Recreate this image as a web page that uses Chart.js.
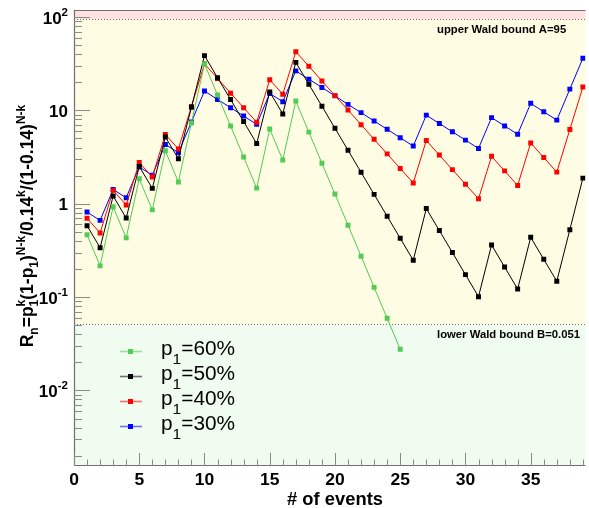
<!DOCTYPE html>
<html>
<head>
<meta charset="utf-8">
<script src="https://cdn.jsdelivr.net/npm/chart.js@4/dist/chart.umd.min.js"></script>
<style>
  html, body { margin: 0; padding: 0; background: #ffffff; }
  #wrap { width: 589px; height: 508px; }
</style>
</head>
<body>
<div id="wrap"><canvas id="c" width="589" height="508"></canvas></div>
<script>
// Number of events N
const events = [1,2,3,4,5,6,7,8,9,10,11,12,13,14,15,16,17,18,19,20,21,22,23,24,25,26,27,28,29,30,31,32,33,34,35,36,37,38,39];

// Likelihood ratio R_n for each hypothesis p1
const ratioP30 = [0.814,0.663,1.42,1.16,2.48,2.02,4.32,3.52,7.53,16.1,13.1,10.7,8.71,7.09,15.2,12.4,26.5,21.6,17.6,14.3,11.6,9.46,7.70,6.27,5.10,4.15,8.90,7.24,5.90,4.80,3.91,8.37,6.81,5.55,11.9,9.67,7.87,16.9,36.2];
const ratioP40 = [0.698,0.487,1.39,0.971,2.77,1.93,5.53,3.86,11.0,31.5,22.0,15.3,10.7,7.46,21.3,14.9,42.5,29.7,20.7,14.4,10.1,7.03,4.90,3.42,2.39,1.67,4.76,3.32,2.32,1.62,1.13,3.22,2.25,1.57,4.48,3.13,2.18,6.23,17.8];
const ratioP50 = [0.581,0.338,1.21,0.702,2.51,1.46,5.20,3.03,10.8,38.6,22.4,13.1,7.59,4.41,15.8,9.16,32.7,19.0,11.1,6.43,3.74,2.17,1.26,0.734,0.427,0.248,0.887,0.516,0.300,0.174,0.101,0.362,0.210,0.122,0.437,0.254,0.148,0.527,1.88];
const ratioP60 = [0.465,0.216,0.927,0.431,1.85,0.860,3.69,1.71,7.34,31.5,14.6,6.81,3.17,1.47,6.31,2.94,12.6,5.85,2.72,1.27,0.589,0.274,0.127,0.0593,0.0276];

// Legend entries (top to bottom)
const seriesNames = ['60%', '50%', '40%', '30%'];

// Wald decision bounds
const upperBound = 95;
const lowerBound = 0.051;
const upperLabel = 'upper Wald bound A=95';
const lowerLabel = 'lower Wald bound B=0.051';

// Axis ticks
const xMajorTicks = [0, 5, 10, 15, 20, 25, 30, 35];
const xTickLabels = ['0', '5', '10', '15', '20', '25', '30', '35'];
const yDecades = [0.01, 0.1, 1, 10, 100];
const yTickBase = ['10', '10', '1', '10', '10'];
const yTickExp = ['-2', '-1', '', '', '2'];
const xTitle = '# of events';

const FAM = '"Liberation Sans", Arial, Helvetica, sans-serif';
const COLORS = { p60: '#52cc52', p50: '#000000', p40: '#ff0000', p30: '#0000ff' };

function toPoints(vals) { return vals.map((v, i) => ({ x: events[i], y: v })); }

// ---- rich text helpers (super/subscripts) ----
function segW(ctx, font, t) { ctx.font = font; return ctx.measureText(t).width; }
function layoutRich(ctx, items, st) {
  let w = 0;
  const out = [];
  for (const it of items) {
    if (typeof it === 'string') {
      const ww = segW(ctx, st.main, it);
      out.push({ x: w, parts: [{ t: it, font: st.main, dy: 0 }] });
      w += ww;
    } else {
      const parts = [];
      let ww = 0;
      if (it.sup !== undefined) { parts.push({ t: it.sup, font: st.script, dy: st.supDy }); ww = Math.max(ww, segW(ctx, st.script, it.sup)); }
      if (it.sub !== undefined) { parts.push({ t: it.sub, font: st.script, dy: st.subDy }); ww = Math.max(ww, segW(ctx, st.script, it.sub)); }
      out.push({ x: w, parts });
      w += ww + (st.gap || 0);
    }
  }
  return { width: w, out };
}
function drawRich(ctx, items, x, y, align, st, sx) {
  sx = sx || 1;
  const L = layoutRich(ctx, items, st);
  const W = L.width * sx;
  let x0 = x;
  if (align === 'center') x0 = x - W / 2;
  else if (align === 'right') x0 = x - W;
  ctx.save();
  ctx.translate(x0, y);
  ctx.scale(sx, 1);
  ctx.textAlign = 'left';
  ctx.textBaseline = 'alphabetic';
  for (const o of L.out) {
    for (const p of o.parts) { ctx.font = p.font; ctx.fillText(p.t, o.x, p.dy); }
  }
  ctx.restore();
}

const decorations = {
  id: 'decorations',
  beforeDatasetsDraw(chart) {
    const { ctx, chartArea: a, scales: { y } } = chart;
    const w = a.right - a.left;
    const yA = y.getPixelForValue(upperBound);
    const yB = y.getPixelForValue(lowerBound);
    ctx.save();
    ctx.fillStyle = '#ffe1e1';
    ctx.fillRect(a.left, a.top, w, yA - a.top);
    ctx.fillStyle = '#fefce3';
    ctx.fillRect(a.left, yA, w, yB - yA);
    ctx.fillStyle = '#f0fcf0';
    ctx.fillRect(a.left, yB, w, a.bottom - yB);

    ctx.strokeStyle = '#707070';
    ctx.lineWidth = 1;
    ctx.setLineDash([1, 2]);
    ctx.beginPath();
    ctx.moveTo(a.left, Math.round(yA) + 0.5); ctx.lineTo(a.right, Math.round(yA) + 0.5);
    ctx.moveTo(a.left, Math.round(yB) + 0.5); ctx.lineTo(a.right, Math.round(yB) + 0.5);
    ctx.stroke();
    ctx.setLineDash([]);

    ctx.fillStyle = '#000';
    ctx.font = 'bold 11.3px ' + FAM;
    ctx.textAlign = 'left';
    ctx.textBaseline = 'alphabetic';
    ctx.fillText(upperLabel, 437, yA + 14);
    ctx.fillText(lowerLabel, 437, yB + 14);
    ctx.restore();
  },
  afterDatasetsDraw(chart) {
    const { ctx, chartArea: a, scales: { x, y } } = chart;
    ctx.save();
    // frame lines
    ctx.strokeStyle = '#6e6e6e';
    ctx.lineWidth = 1.2;
    ctx.beginPath();
    ctx.moveTo(a.left + 0.5, a.top); ctx.lineTo(a.left + 0.5, a.bottom);
    ctx.moveTo(a.left, a.bottom - 0.5); ctx.lineTo(a.right, a.bottom - 0.5);
    ctx.moveTo(a.left, a.top + 0.5); ctx.lineTo(a.right, a.top + 0.5);
    ctx.stroke();

    // x ticks (inward)
    ctx.strokeStyle = '#8a8a8a';
    ctx.lineWidth = 1;
    ctx.beginPath();
    for (let v = Math.ceil(x.min); v <= x.max; v++) {
      const px = Math.round(x.getPixelForValue(v)) + 0.5;
      const len = (v % 5 === 0) ? 13 : 6.5;
      ctx.moveTo(px, a.bottom); ctx.lineTo(px, a.bottom - len);
    }
    // y ticks (inward)
    for (let e = -3; e <= 2; e++) {
      for (let m = 1; m <= 9; m++) {
        const v = m * Math.pow(10, e);
        if (v < y.min || v > y.max) continue;
        const py = Math.round(y.getPixelForValue(v)) + 0.5;
        const len = (m === 1) ? 16 : 8;
        ctx.moveTo(a.left, py); ctx.lineTo(a.left + len, py);
      }
    }
    ctx.stroke();

    // x tick labels
    ctx.fillStyle = '#000';
    xMajorTicks.forEach((v, i) => {
      drawRich(ctx, [xTickLabels[i]], x.getPixelForValue(v), 485, 'center',
        { main: 'bold 16.5px ' + FAM }, 1.06);
    });

    // y tick labels
    yDecades.forEach((v, i) => {
      const py = y.getPixelForValue(v);
      const items = [yTickBase[i]];
      if (yTickExp[i]) items.push({ sup: yTickExp[i] });
      drawRich(ctx, items, 68, py + 6.5, 'right',
        { main: 'bold 17px ' + FAM, script: 'bold 11.5px ' + FAM, supDy: -8, subDy: 5 }, 1.0);
    });

    // x title
    drawRich(ctx, [xTitle], 335, 505, 'center', { main: 'bold 18px ' + FAM }, 1.02);

    // y title (rotated)
    ctx.save();
    ctx.translate(33, 226);
    ctx.rotate(-Math.PI / 2);
    drawRich(ctx, [
      'R', { sub: 'n' }, '=p', { sub: '1', sup: 'k' }, '(1-p', { sub: '1' }, ')', { sup: 'N-k' },
      '/0.14', { sup: 'k' }, '/(1-0.14)', { sup: 'N-k' }
    ], 0, 0, 'center',
      { main: 'bold 17.5px ' + FAM, script: 'bold 12px ' + FAM, supDy: -8, subDy: 5 }, 1.0);
    ctx.restore();

    // legend
    const legendColors = [COLORS.p60, COLORS.p50, COLORS.p40, COLORS.p30];
    const rows = [351, 376, 401, 426];
    seriesNames.forEach((name, i) => {
      const ry = rows[i];
      ctx.save();
      ctx.globalAlpha = 0.55;
      ctx.strokeStyle = legendColors[i];
      ctx.lineWidth = 1.6;
      ctx.beginPath();
      ctx.moveTo(120, ry + 0.5); ctx.lineTo(142, ry + 0.5);
      ctx.stroke();
      ctx.restore();
      ctx.fillStyle = legendColors[i];
      ctx.fillRect(128, ry - 2, 5, 5);
      ctx.fillStyle = '#000';
      drawRich(ctx, ['p', { sub: '1' }, '=' + name], 161, ry + 4, 'left',
        { main: '20px ' + FAM, script: '15px ' + FAM, supDy: -8, subDy: 9 }, 1.04);
    });
    ctx.restore();
  }
};

function ds(vals, color) {
  return {
    data: toPoints(vals),
    borderColor: color,
    backgroundColor: color,
    borderWidth: 1,
    pointStyle: 'rect',
    pointRadius: 3.5,
    pointBorderWidth: 0,
    pointHoverRadius: 3.5,
    tension: 0,
    fill: false
  };
}

new Chart(document.getElementById('c'), {
  type: 'line',
  data: {
    datasets: [
      ds(ratioP60, COLORS.p60),
      ds(ratioP50, COLORS.p50),
      ds(ratioP40, COLORS.p40),
      ds(ratioP30, COLORS.p30)
    ]
  },
  options: {
    responsive: false,
    animation: false,
    events: [],
    layout: { padding: { left: 74, top: 10, right: 0, bottom: 42 } },
    plugins: { legend: { display: false }, tooltip: { enabled: false } },
    scales: {
      x: { type: 'linear', min: 0, max: 39.2, bounds: 'data', display: false },
      y: { type: 'logarithmic', min: 0.00155, max: 119, bounds: 'data', display: false }
    }
  },
  plugins: [decorations]
});
</script>
</body>
</html>
